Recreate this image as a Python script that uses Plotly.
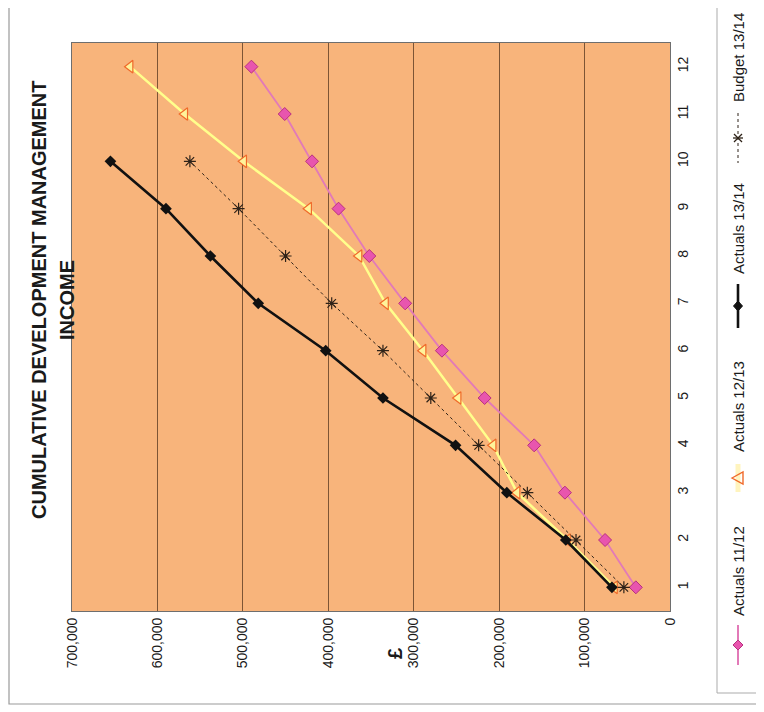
import plotly.graph_objects as go

# The page is drawn with an 8px body margin, so the figure is 8px smaller and
# all layout positions below are given in reference-picture pixels.
OFF = 8
W, H = 764 - OFF, 712 - OFF

months = [1, 2, 3, 4, 5, 6, 7, 8, 9, 10, 11, 12]
actuals_11_12 = [40000, 76000, 123000, 159000, 217000, 267000, 310000, 352000, 388000, 419000, 451000, 490000]
actuals_12_13 = [65000, 120000, 179000, 207000, 248000, 289000, 333000, 364000, 423000, 499000, 568000, 632000]
actuals_13_14 = [68000, 122000, 191000, 251000, 336000, 403000, 482000, 538000, 590000, 655000]
budget_13_14 = [54000, 110000, 167000, 224000, 280000, 336000, 396000, 450000, 505000, 562000]

value_ticks = [0, 100000, 200000, 300000, 400000, 500000, 600000, 700000]
value_tick_text = ["0", "100,000", "200,000", "300,000", "400,000", "500,000", "600,000", "700,000"]
series_names = ["Actuals 11/12", "Actuals 12/13", "Actuals 13/14", "Budget 13/14"]
title_lines = ["CUMULATIVE DEVELOPMENT MANAGEMENT", "INCOME"]
value_axis_title = "£"

FONT = "Liberation Sans, Arial, sans-serif"
PLOT_BG = "#F8B47B"

# plot area in reference pixels
PL, PR, PT, PB = 72, 670, 43, 611


def px(x):
    return (x - OFF) / W


def py(y):
    return 1 - (y - OFF) / H


fig = go.Figure()

pink_line = "#E27AB8"
pink_fill = "#E855AE"
pink_edge = "#B8307E"
yellow_line = "#FFFF8C"
tri_edge = "#F06A2A"
tri_fill = "#FFF39A"
dark = "#2e2218"
grid_col = "#7d5535"

# ---- data traces (rotated chart: value on horizontal, month on vertical) ----
fig.add_trace(go.Scatter(x=actuals_11_12, y=months[:len(actuals_11_12)], mode="lines+markers",
                         line=dict(color=pink_line, width=1.8),
                         marker=dict(symbol="diamond", size=10, color=pink_fill,
                                     line=dict(color=pink_edge, width=1)),
                         name=series_names[0], showlegend=False))
fig.add_trace(go.Scatter(x=actuals_12_13, y=months[:len(actuals_12_13)], mode="lines+markers",
                         line=dict(color=yellow_line, width=2.5),
                         marker=dict(symbol="triangle-left", size=11, color=tri_fill,
                                     line=dict(color=tri_edge, width=1.2)),
                         name=series_names[1], showlegend=False))
fig.add_trace(go.Scatter(x=budget_13_14, y=months[:len(budget_13_14)], mode="lines+markers",
                         line=dict(color=dark, width=1, dash="dot"),
                         marker=dict(symbol="asterisk-open", size=10,
                                     line=dict(color=dark, width=1.2)),
                         name=series_names[3], showlegend=False))
fig.add_trace(go.Scatter(x=actuals_13_14, y=months[:len(actuals_13_14)], mode="lines+markers",
                         line=dict(color="#111111", width=2.6),
                         marker=dict(symbol="diamond", size=9, color="#111111"),
                         name=series_names[2], showlegend=False))

shapes = [
    dict(type="rect", xref="x domain", yref="y domain", x0=0, x1=1, y0=0, y1=1,
         fillcolor=PLOT_BG, line=dict(width=0), layer="below"),
    # outer frame
    dict(type="rect", xref="paper", yref="paper", x0=px(9), x1=px(761), y0=py(2), y1=py(704),
         line=dict(color="#9a9a9a", width=1.2)),
    # legend box
    dict(type="rect", xref="paper", yref="paper", x0=px(717), x1=px(757), y0=py(2), y1=py(693),
         line=dict(color="#ababab", width=1)),
]


def seg(x0, y0, x1, y1, color, width, dash="solid"):
    shapes.append(dict(type="line", xref="paper", yref="paper", x0=px(x0), y0=py(y0),
                       x1=px(x1), y1=py(y1), line=dict(color=color, width=width, dash=dash)))


def poly(pts, fill, edge, width=1):
    d = "M " + " L ".join(f"{px(a):.5f},{py(b):.5f}" for a, b in pts) + " Z"
    shapes.append(dict(type="path", xref="paper", yref="paper", path=d,
                       fillcolor=fill, line=dict(color=edge, width=width)))


LX = 738
# legend: Actuals 11/12
seg(LX, 625, LX, 665, pink_line, 2)
poly([(LX, 640), (LX + 5, 645), (LX, 650), (LX - 5, 645)], pink_fill, pink_edge)
# legend: Actuals 12/13
seg(LX, 464, LX, 492, "#FFF4BE", 5)
poly([(LX - 6, 478), (LX + 5, 472), (LX + 5, 484)], "rgba(0,0,0,0)", tri_edge, 1.4)
# legend: Actuals 13/14
seg(LX, 284, LX, 328, "#111111", 2.6)
poly([(LX, 301), (LX + 4.5, 306), (LX, 311), (LX - 4.5, 306)], "#111111", "#111111")
# legend: Budget 13/14
seg(LX, 113, LX, 163, dark, 1, "dot")
seg(LX - 4, 134, LX + 4, 142, dark, 1.3)
seg(LX - 4, 142, LX + 4, 134, dark, 1.3)
seg(LX - 5, 138, LX + 5, 138, dark, 1.3)

annotations = []


def text(x, y, s, size, bold=False):
    annotations.append(dict(x=px(x), y=py(y), xref="paper", yref="paper",
                            text=(f"<b>{s}</b>" if bold else s),
                            showarrow=False, textangle=-90,
                            font=dict(family=FONT, size=size, color="#1a1a1a"),
                            xanchor="center", yanchor="middle"))


text(LX, 571, series_names[0], 15)
text(LX, 407, series_names[1], 15)
text(LX, 229, series_names[2], 15)
text(LX, 58, series_names[3], 15)
text(39, 300, title_lines[0], 20, bold=True)
text(67, 300, title_lines[1], 20, bold=True)
text(395, 653, value_axis_title, 20, bold=True)

fig.update_layout(
    width=W, height=H,
    margin=dict(l=0, r=0, t=0, b=0),
    paper_bgcolor="white", plot_bgcolor="rgba(0,0,0,0)",
    font=dict(family=FONT, size=14, color="#1a1a1a"),
    xaxis=dict(domain=[px(PL), px(PR)], range=[700000, 0], tickvals=value_ticks,
               ticktext=value_tick_text, tickangle=-90, showgrid=True,
               gridcolor=grid_col, gridwidth=1, zeroline=False,
               showline=True, linecolor="#6e6e6e", linewidth=1.2, mirror=True,
               ticks="", tickfont=dict(size=14), automargin=False),
    yaxis=dict(domain=[py(PB), py(PT)], range=[0.5, 12.5], tickvals=months,
               side="right", tickangle=-90, showgrid=False, zeroline=False,
               showline=True, linecolor="#6e6e6e", linewidth=1.2, mirror=True,
               ticks="", tickfont=dict(size=14), automargin=False),
    annotations=annotations, shapes=shapes,
)

fig.write_html("out.html")
